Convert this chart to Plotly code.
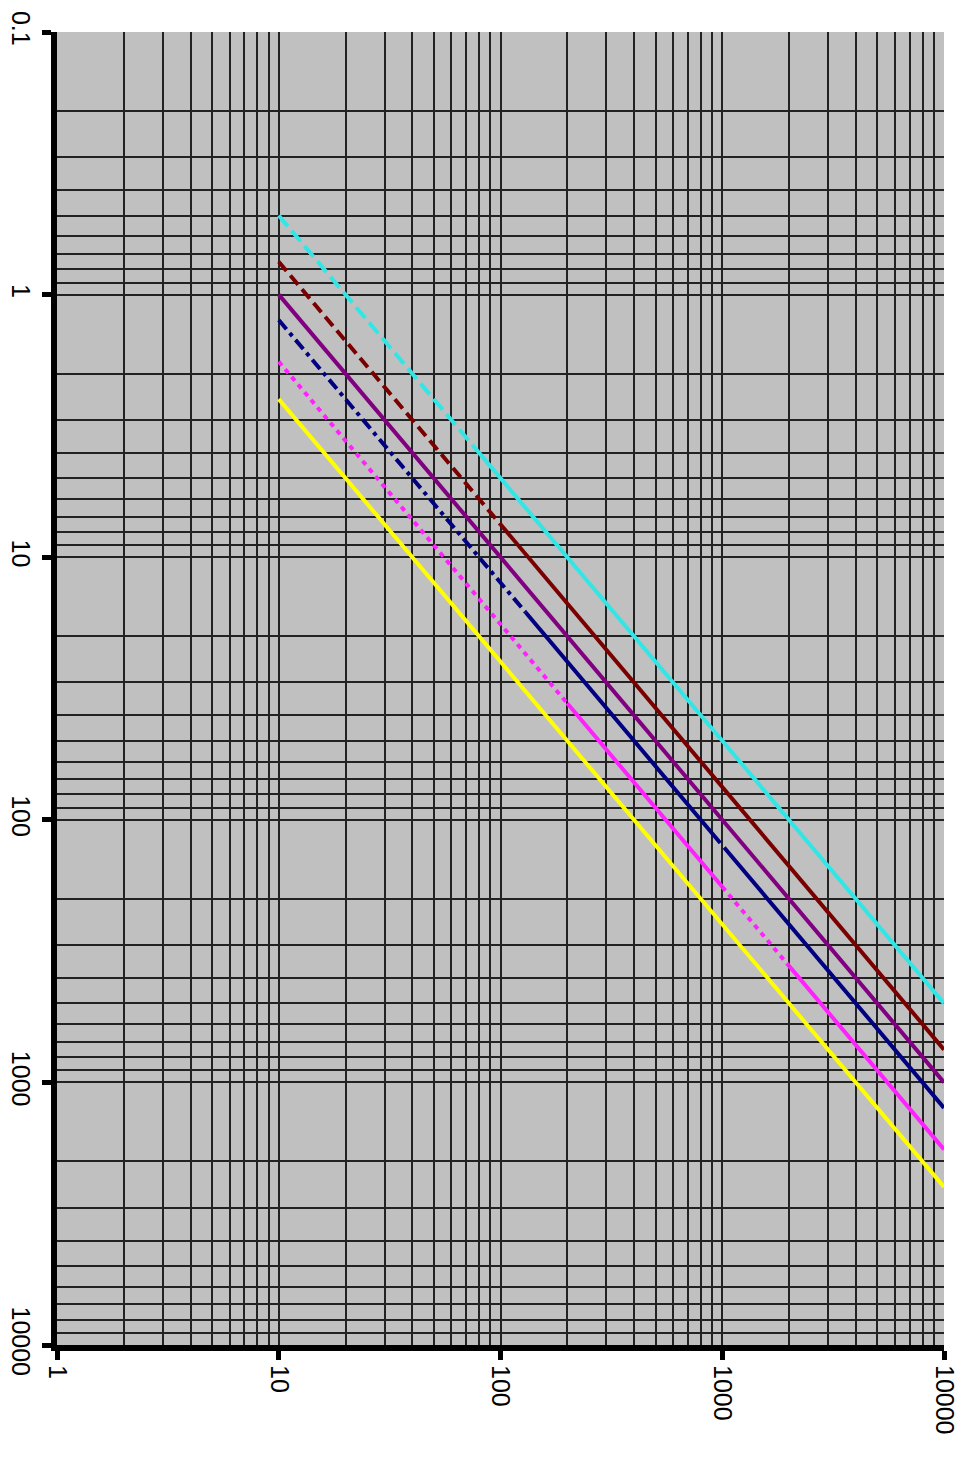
import plotly.graph_objects as go

# Tick labels
x_tick_vals = [1, 10, 100, 1000, 10000]
x_tick_text = ["1", "10", "100", "1000", "10000"]
y_tick_vals = [0.1, 1, 10, 100, 1000, 10000]
y_tick_text = ["0.1", "1", "10", "100", "1000", "10000"]

# Series (breakpoints) and segment styles
cyan_x = [10, 75, 10000]
cyan_y = [0.5, 3.75, 500]
cyan_dash = ["14px,6px", "solid"]

brown_x = [10, 100, 10000]
brown_y = [0.75, 7.5, 750]
brown_dash = ["12px,6px", "solid"]

purple_x = [10, 10000]
purple_y = [1.0, 1000]
purple_dash = ["solid"]

navy_x = [10, 130, 980, 1020, 10000]
navy_y = [1.25, 16.25, 122.5, 127.5, 1250]
navy_dash = ["12px,5px,4px,5px", "solid", None, "solid"]

magenta_x = [10, 200, 1000, 2000, 10000]
magenta_y = [1.8, 36, 180, 360, 1800]
magenta_dash = ["5px,5px", "solid", "5px,5px", "solid"]

yellow_x = [10, 10000]
yellow_y = [2.5, 2500]
yellow_dash = ["solid"]

series = [
    ("#33E6E6", cyan_x, cyan_y, cyan_dash),
    ("#7A0000", brown_x, brown_y, brown_dash),
    ("#800080", purple_x, purple_y, purple_dash),
    ("#000080", navy_x, navy_y, navy_dash),
    ("#FF22FF", magenta_x, magenta_y, magenta_dash),
    ("#FFFF00", yellow_x, yellow_y, yellow_dash),
]

fig = go.Figure()
for color, xs, ys, dashes in series:
    for i, d in enumerate(dashes):
        if d is None:
            continue
        fig.add_trace(go.Scatter(
            x=xs[i:i + 2], y=ys[i:i + 2], mode="lines",
            line=dict(color=color, width=4, dash=d),
            showlegend=False, hoverinfo="skip"))

def minor_vals(lo, hi):
    vals = []
    for e in range(lo, hi):
        for m in range(2, 10):
            vals.append(m * 10 ** e)
    return vals

font = dict(family="Liberation Sans, Arial, sans-serif", size=25, color="#000000")

fig.update_layout(
    width=957, height=1472,
    margin=dict(l=49, r=21, t=24, b=135),
    paper_bgcolor="#FFFFFF",
    plot_bgcolor="#C0C0C0",
    showlegend=False,
    font=font,
    xaxis=dict(
        type="log", range=[0, 4], automargin=False,
        tickvals=x_tick_vals, ticktext=x_tick_text, tickangle=90,
        ticks="outside", ticklen=9, tickwidth=5, tickcolor="#000000",
        showline=True, linecolor="#000000", linewidth=6,
        showgrid=True, gridcolor="#222222", gridwidth=1.5,
        minor=dict(tickvals=minor_vals(0, 4), showgrid=True,
                   gridcolor="#222222", gridwidth=1.5, ticks=""),
        zeroline=False, tickfont=font,
    ),
    yaxis=dict(
        type="log", range=[4, -1], automargin=False,
        tickvals=y_tick_vals, ticktext=y_tick_text, tickangle=90,
        ticks="outside", ticklen=9, tickwidth=5, tickcolor="#000000",
        showline=True, linecolor="#000000", linewidth=6,
        showgrid=True, gridcolor="#222222", gridwidth=1.5,
        minor=dict(tickvals=minor_vals(-1, 4), showgrid=True,
                   gridcolor="#222222", gridwidth=1.5, ticks=""),
        zeroline=False, tickfont=font,
    ),
)

fig.write_html("out.html")
